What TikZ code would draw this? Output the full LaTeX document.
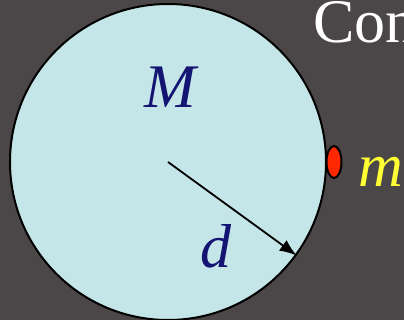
\documentclass[tikz,border=0pt]{standalone}
\usepackage{fontspec}
\setmainfont{Liberation Serif}
\usepackage{tikz}
\usetikzlibrary{positioning,arrows.meta,shapes.geometric}
\definecolor{slidebg}{RGB}{75,70,72}
\definecolor{planetfill}{RGB}{197,230,232}
\definecolor{massblue}{RGB}{20,20,115}
\definecolor{moonred}{RGB}{255,40,0}
\definecolor{massyellow}{RGB}{255,255,51}
\tikzset{
  planet/.style ={draw=black, line width=2pt, circle, fill=planetfill, minimum size=316pt, inner sep=0pt},
  moon/.style   ={draw=black, line width=2pt, ellipse, fill=moonred, minimum width=15pt, minimum height=32pt, inner sep=0pt},
  lbl/.style    ={inner sep=0pt, anchor=base west, font=\fontsize{62}{62}\selectfont},
  arr/.style    ={-{Latex[length=17pt, width=13pt]}, line width=1.8pt},
}

\begin{document}
\begin{tikzpicture}[x=1pt, y=-1pt]
  \useasboundingbox (0,0) rectangle (404,320);
  \clip (0,0) rectangle (404,320);
  \fill[slidebg] (0,0) rectangle (404,320);

  \node[planet] (earth) at (168,162) {};
  \coordinate (centre) at (168,162);
  \node[moon] (sat) at (334,162) {};

  \node[lbl, text=massblue] (bigM) at (144,108) {\itshape M};
  \node[lbl, text=massblue] (dist) at (200,268) {\itshape d};
  \node[lbl, text=massyellow] (smallm) at (358,187) {\itshape m};
  \node[lbl, text=white] (title) at (313,43) {Con};

  \draw[arr] (centre) -- (earth.-36.6);
\end{tikzpicture}
\end{document}
